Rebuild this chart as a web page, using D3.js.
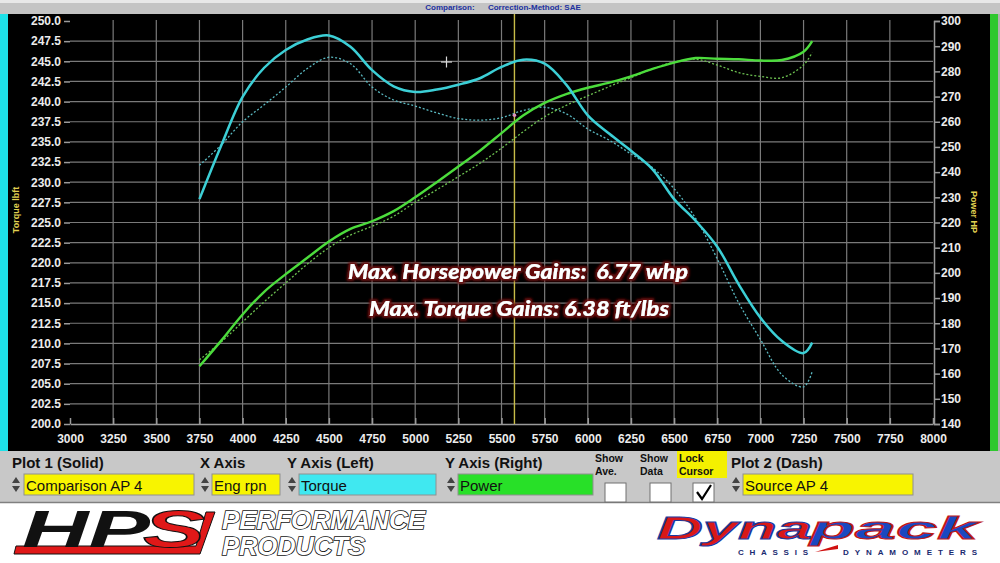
<!DOCTYPE html>
<html><head><meta charset="utf-8">
<script src="https://cdn.jsdelivr.net/npm/d3@7/dist/d3.min.js"></script>
<style>
html,body{margin:0;padding:0;background:#fff;}
svg{display:block;}
</style></head>
<body>
<svg id="c" width="1000" height="563"></svg>
<script>
// ---- data ----
const rpm = [3750,3875,4000,4125,4250,4375,4500,4625,4750,4875,5000,5125,5250,5375,5500,5625,5750,5875,6000,6125,6250,6375,6500,6625,6750,6875,7000,7125,7250,7300];
const torqueSolid = [227.9,234.5,240.6,244.2,246.4,247.7,248.2,246.8,243.9,241.9,241.2,241.5,242.1,242.9,244.3,245.2,244.7,242.1,238.3,236.0,233.9,231.6,227.9,225.2,222.0,217.3,213.2,210.3,208.8,210.1];
const torqueDash  = [232.1,234.6,237.5,239.6,241.8,244.1,245.5,244.7,241.8,240.2,239.45,238.6,237.9,237.7,238.0,238.9,239.3,238.5,236.6,235.2,233.5,231.8,229.2,225.5,220.5,215.0,210.5,206.1,204.6,206.5];
const powerSolid  = [162.9,173.0,183.5,192.5,199.5,206.0,212.5,217.5,220.5,224.5,230.0,236.0,242.2,248.5,255.5,262.5,267.5,271.0,273.5,275.5,278.0,281.0,283.5,285.3,285.0,284.8,284.3,284.5,287.8,292.0];
const powerDash   = [165.5,172.5,180.5,188.5,196.0,203.5,210.0,215.0,218.5,222.5,228.0,233.0,238.2,243.5,249.5,256.0,262.0,266.5,270.3,274.0,277.5,281.0,283.7,284.8,282.5,279.5,278.0,277.5,282.5,287.5];
const xTicks = [3000,3250,3500,3750,4000,4250,4500,4750,5000,5250,5500,5750,6000,6250,6500,6750,7000,7250,7500,7750,8000];
const leftTicks = [200,202.5,205,207.5,210,212.5,215,217.5,220,222.5,225,227.5,230,232.5,235,237.5,240,242.5,245,247.5,250];
const rightTicks = [140,150,160,170,180,190,200,210,220,230,240,250,260,270,280,290,300];
const cursorRpm = 5575;
const gainLines = ["Max. Horsepower Gains:  6.77 whp","Max. Torque Gains: 6.38 ft/lbs"];

const svg = d3.select("#c");
const x = d3.scaleLinear().domain([3000,8000]).range([70,933]);
const yL = d3.scaleLinear().domain([200,250]).range([424,21]);
const yR = d3.scaleLinear().domain([140,300]).range([424,21]);

// backgrounds
svg.append("rect").attr("x",0).attr("y",0).attr("width",1000).attr("height",14).attr("fill","#c4c4c4");
svg.append("rect").attr("x",0).attr("y",0).attr("width",1000).attr("height",3).attr("fill","#e8e8e8");
svg.append("rect").attr("x",0).attr("y",14).attr("width",1000).attr("height",437).attr("fill","#000");
svg.append("rect").attr("x",0).attr("y",14).attr("width",8).attr("height",437).attr("fill","#1ee0e8");
svg.append("rect").attr("x",990).attr("y",14).attr("width",8).attr("height",437).attr("fill","#2ec82e");
svg.append("rect").attr("x",998).attr("y",14).attr("width",2).attr("height",437).attr("fill","#b0b0b0");
svg.append("text").attr("x",503).attr("y",10).attr("text-anchor","middle")
  .attr("font-family","Liberation Sans, Arial").attr("font-size",8).attr("font-weight","bold").attr("fill","#2030a0")
  .attr("xml:space","preserve").text("Comparison:      Correction-Method: SAE");

// grid
const grid = svg.append("g").attr("stroke","#7a7a7a").attr("stroke-width",1.2);
leftTicks.filter(t=>t>200 && t<250).forEach(t=>{
  grid.append("line").attr("x1",70).attr("x2",933).attr("y1",yL(t)).attr("y2",yL(t));
});
xTicks.filter(t=>t>3000 && t<8000).forEach(t=>{
  grid.append("line").attr("x1",x(t)).attr("x2",x(t)).attr("y1",20).attr("y2",424);
});

// axes
const fontF = "Liberation Sans, Arial, sans-serif";
const gL = svg.append("g").attr("transform","translate(70,0)")
  .call(d3.axisLeft(yL).tickValues(leftTicks).tickFormat(d3.format(".1f")).tickSize(6).tickPadding(3));
gL.select(".domain").remove();
const gR = svg.append("g").attr("transform","translate(934,0)")
  .call(d3.axisRight(yR).tickValues(rightTicks).tickFormat(d3.format("d")).tickSize(6).tickPadding(1));
const gX = svg.append("g").attr("transform","translate(0,424)")
  .call(d3.axisBottom(x).tickValues(xTicks).tickFormat(d3.format("d")).tickSizeInner(-6).tickSizeOuter(0).tickPadding(10));
[gL,gR,gX].forEach(g=>{
  g.selectAll("text").attr("fill","#ececec").attr("font-family",fontF).attr("font-size",12).attr("font-weight","bold");
  g.selectAll("line").attr("stroke","#9a9a9a").attr("stroke-width",1.5);
  g.selectAll(".domain").attr("stroke","#9a9a9a").attr("stroke-width",1.5);
});

// axis titles
svg.append("text").attr("transform","translate(19,210) rotate(-90)").attr("text-anchor","middle")
  .attr("font-family",fontF).attr("font-size",9).attr("font-weight","bold").attr("fill","#e0d050").text("Torque lbft");
svg.append("text").attr("transform","translate(971,212) rotate(90)").attr("text-anchor","middle")
  .attr("font-family",fontF).attr("font-size",9).attr("font-weight","bold").attr("fill","#e0d050").text("Power HP");

// cursor
svg.append("line").attr("x1",x(cursorRpm)).attr("x2",x(cursorRpm)).attr("y1",14).attr("y2",424)
  .attr("stroke","#c8bc48").attr("stroke-width",1.4);

// curves
const lineL = vals => d3.line().x((d,i)=>x(rpm[i])).y(d=>yL(d)).curve(d3.curveCatmullRom.alpha(0.5))(vals);
const lineR = vals => d3.line().x((d,i)=>x(rpm[i])).y(d=>yR(d)).curve(d3.curveCatmullRom.alpha(0.5))(vals);
svg.append("path").attr("d",lineL(torqueDash)).attr("fill","none").attr("stroke","#5ab8c0").attr("stroke-width",1.3).attr("stroke-dasharray","2,2");
svg.append("path").attr("d",lineR(powerDash)).attr("fill","none").attr("stroke","#6cc050").attr("stroke-width",1.3).attr("stroke-dasharray","2,2");
svg.append("path").attr("d",lineR(powerSolid)).attr("fill","none").attr("stroke","#4cdc3c").attr("stroke-width",2.4);
svg.append("path").attr("d",lineL(torqueSolid)).attr("fill","none").attr("stroke","#3ccfd6").attr("stroke-width",2.5);

// crosshair marker
const ch = svg.append("g").attr("stroke","#d8d8d8").attr("stroke-width",1.2);
ch.append("line").attr("x1",441).attr("x2",452).attr("y1",62).attr("y2",62);
ch.append("line").attr("x1",446.5).attr("x2",446.5).attr("y1",56.5).attr("y2",67.5);
svg.append("circle").attr("cx",x(cursorRpm)).attr("cy",yL(238.3)).attr("r",1.8).attr("fill","#e090c0");

// gains annotation
const defs = svg.append("defs");
const f = defs.append("filter").attr("id","glow").attr("x","-10%").attr("y","-30%").attr("width","120%").attr("height","160%");
f.append("feMorphology").attr("in","SourceAlpha").attr("operator","dilate").attr("radius",2.2).attr("result","d");
f.append("feFlood").attr("flood-color","#6a0a0a");
f.append("feComposite").attr("in2","d").attr("operator","in").attr("result","o");
f.append("feGaussianBlur").attr("in","o").attr("stdDeviation",1).attr("result","ob");
const fm = f.append("feMerge");
fm.append("feMergeNode").attr("in","ob");
fm.append("feMergeNode").attr("in","SourceGraphic");
const gainY = [279,316];
const gainX = [348,369];
const gainW = [340,300];
gainLines.forEach((t,i)=>{
  svg.append("text").attr("x",gainX[i]).attr("y",gainY[i]).attr("xml:space","preserve")
    .attr("textLength",gainW[i]).attr("lengthAdjust","spacingAndGlyphs")
    .attr("font-family","Lato, 'Open Sans', sans-serif").attr("font-style","italic").attr("font-weight","900")
    .attr("font-size",20).attr("fill","#fff").attr("filter","url(#glow)").text(t);
});

// control panel
svg.append("rect").attr("x",0).attr("y",451).attr("width",1000).attr("height",52).attr("fill","#c8c8c8");
svg.append("line").attr("x1",0).attr("x2",1000).attr("y1",502.5).attr("y2",502.5).attr("stroke","#808080").attr("stroke-width",1.5);
const panelLabels = [
  {t:"Plot 1 (Solid)",x:12},{t:"X Axis",x:200},{t:"Y Axis (Left)",x:287},{t:"Y Axis (Right)",x:445},{t:"Plot 2 (Dash)",x:731}
];
panelLabels.forEach(p=>{
  svg.append("text").attr("x",p.x).attr("y",468).attr("font-family",fontF).attr("font-size",15).attr("font-weight","bold").attr("fill","#111").text(p.t);
});
svg.append("rect").attr("x",677).attr("y",451).attr("width",50).attr("height",27).attr("fill","#f4f000");
[["Show","Ave.",595],["Show","Data",640],["Lock","Cursor",679]].forEach(a=>{
  svg.append("text").attr("x",a[2]).attr("y",462).attr("font-family",fontF).attr("font-size",10.5).attr("font-weight","bold").attr("fill","#111").text(a[0]);
  svg.append("text").attr("x",a[2]).attr("y",475).attr("font-family",fontF).attr("font-size",10.5).attr("font-weight","bold").attr("fill","#111").text(a[1]);
});
const boxes = [
  {x:24,w:170,fill:"#f8f400",t:"Comparison AP 4",sx:11},
  {x:212,w:68,fill:"#f8f400",t:"Eng rpn",sx:200},
  {x:299,w:137,fill:"#40e8f0",t:"Torque",sx:287},
  {x:458,w:135,fill:"#28e028",t:"Power",sx:446},
  {x:743,w:170,fill:"#f8f400",t:"Source AP 4",sx:731}
];
boxes.forEach(b=>{
  svg.append("rect").attr("x",b.x).attr("y",474).attr("width",b.w).attr("height",21).attr("fill",b.fill).attr("stroke","#909090").attr("stroke-width",1);
  svg.append("text").attr("x",b.x+2).attr("y",491).attr("font-family",fontF).attr("font-size",15).attr("fill","#111").text(b.t);
  const s = svg.append("g").attr("fill","#444");
  s.append("path").attr("d",`M${b.sx+1},483 L${b.sx+5},477 L${b.sx+9},483 Z`);
  s.append("path").attr("d",`M${b.sx+1},486 L${b.sx+5},492 L${b.sx+9},486 Z`);
});
[605,650,693].forEach((cx,i)=>{
  svg.append("rect").attr("x",cx).attr("y",483).attr("width",21).attr("height",19).attr("fill","#fff").attr("stroke","#707070");
  if(i===2) svg.append("path").attr("d",`M${cx+4},492 L${cx+9},499 L${cx+18},485`).attr("fill","none").attr("stroke","#000").attr("stroke-width",2.2);
});

// logos (footer)
svg.append("rect").attr("x",0).attr("y",504).attr("width",1000).attr("height",59).attr("fill","#fff");
svg.append("path").attr("d","M14,554 L200,554 L215,512 L206,512 L196,546 L16,546 Z").attr("fill","#e01818").attr("stroke","#111").attr("stroke-width",1);
svg.append("text").attr("x",22).attr("y",547).attr("textLength",128).attr("lengthAdjust","spacingAndGlyphs")
  .attr("font-family","Liberation Sans, Arial").attr("font-style","italic").attr("font-weight","bold").attr("font-size",52).attr("fill","#111").text("HP");
svg.append("text").attr("x",143).attr("y",547).attr("textLength",62).attr("lengthAdjust","spacingAndGlyphs")
  .attr("font-family","Liberation Sans, Arial").attr("font-style","italic").attr("font-weight","bold").attr("font-size",52).attr("fill","#e01818").attr("stroke","#111").attr("stroke-width",1).text("S");
[["PERFORMANCE",222,529,203],["PRODUCTS",222,555,143]].forEach(p=>{
  svg.append("text").attr("x",p[1]).attr("y",p[2]).attr("textLength",p[3]).attr("lengthAdjust","spacingAndGlyphs")
    .attr("font-family","Liberation Sans, Arial").attr("font-style","italic").attr("font-weight","bold").attr("font-size",25)
    .attr("fill","#fff").attr("stroke","#111").attr("stroke-width",1.6).attr("paint-order","stroke").text(p[0]);
});
svg.append("path").attr("d","M815,552 L838,545 L838,549 Z").attr("fill","#d01010");
svg.append("text").attr("x",657).attr("y",539).attr("textLength",155).attr("lengthAdjust","spacingAndGlyphs")
  .attr("font-family","Liberation Sans, Arial").attr("font-style","italic").attr("font-weight","bold").attr("font-size",31)
  .attr("fill","#d81818").attr("stroke","#1a3aa0").attr("stroke-width",1).text("Dyna");
svg.append("text").attr("x",810).attr("y",539).attr("textLength",168).attr("lengthAdjust","spacingAndGlyphs")
  .attr("font-family","Liberation Sans, Arial").attr("font-style","italic").attr("font-weight","bold").attr("font-size",31)
  .attr("fill","#1a48c0").attr("stroke","#c01818").attr("stroke-width",1).text("pack");
svg.append("text").attr("x",738).attr("y",555).attr("textLength",70).attr("lengthAdjust","spacing")
  .attr("font-family","Liberation Sans, Arial").attr("font-weight","bold").attr("font-size",8).attr("fill","#1a2a70").text("CHASSIS");
svg.append("text").attr("x",843).attr("y",555).attr("textLength",134).attr("lengthAdjust","spacing")
  .attr("font-family","Liberation Sans, Arial").attr("font-weight","bold").attr("font-size",8).attr("fill","#1a2a70").text("DYNAMOMETERS");
</script>
</body></html>
